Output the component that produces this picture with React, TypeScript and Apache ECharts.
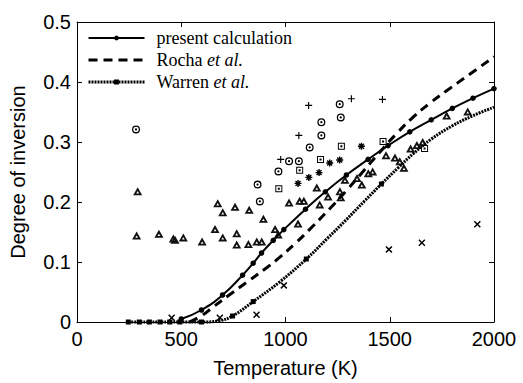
import React, { useEffect, useRef } from "react";
import * as echarts from "echarts";

// ---- data (Temperature K, degree of inversion) ----
const presentCalc: [number, number][] = [
  [500, 0.005], [597, 0.02], [698, 0.045], [794, 0.078], [845, 0.098], [885, 0.115],
  [941, 0.136], [992, 0.154], [1096, 0.188], [1191, 0.217], [1292, 0.245], [1396, 0.271],
  [1492, 0.294], [1596, 0.317], [1699, 0.337], [1800, 0.356], [1899, 0.373], [2000, 0.389],
];

const rochaCurve: [number, number][] = [
  [540, 0], [600, 0.011], [653, 0.025], [730, 0.045], [813, 0.066], [900, 0.088],
  [973, 0.108], [1050, 0.132], [1132, 0.16], [1210, 0.188], [1292, 0.219], [1370, 0.25],
  [1452, 0.283], [1530, 0.313], [1611, 0.341], [1690, 0.364], [1771, 0.385], [1880, 0.412],
  [2000, 0.442],
];

const warrenMarked: [number, number][] = [
  [246, 0], [299, 0], [347, 0], [398, 0], [445, 0], [493, 0], [597, 0], [746, 0.01],
  [845, 0.034], [1100, 0.105], [1460, 0.23],
];
const warrenCurve: [number, number][] = [
  [680, 0.002], [973, 0.067], [1200, 0.139], [1290, 0.17], [1380, 0.202], [1540, 0.257],
  [1611, 0.28], [1700, 0.305], [1800, 0.327], [1900, 0.344], [2000, 0.358],
];

const dotCircles: [number, number][] = [
  [283, 0.321], [866, 0.229], [877, 0.201], [966, 0.251], [1017, 0.268], [1064, 0.268],
  [1116, 0.291], [1172, 0.311], [1172, 0.333], [1265, 0.341], [1260, 0.363],
];
const plusMarks: [number, number][] = [
  [977, 0.271], [1064, 0.311], [1111, 0.361], [1316, 0.372], [1465, 0.371],
];
const dotSquares: [number, number][] = [
  [968, 0.222], [1068, 0.253], [1168, 0.271], [1268, 0.293], [1468, 0.301], [1667, 0.289],
];
const asterisks: [number, number][] = [
  [1060, 0.231], [1112, 0.241], [1161, 0.249], [1212, 0.265], [1260, 0.27], [1364, 0.293],
];
const crosses: [number, number][] = [
  [454, 0.007], [685, 0.007], [861, 0.012], [992, 0.061], [1496, 0.121], [1654, 0.132], [1920, 0.163],
];
const triangles: [number, number][] = [
  [291, 0.218], [286, 0.144], [393, 0.147], [462, 0.139], [470, 0.137], [510, 0.141], [600, 0.134],
  [662, 0.155], [699, 0.141], [675, 0.198], [699, 0.183], [758, 0.192], [826, 0.187],
  [894, 0.172], [766, 0.148], [766, 0.129], [822, 0.13], [862, 0.134], [886, 0.134],
  [950, 0.155], [965, 0.146], [1017, 0.199], [1068, 0.202], [1088, 0.202], [1060, 0.164],
  [1150, 0.224], [1164, 0.196], [1204, 0.209], [1261, 0.218], [1265, 0.208], [1285, 0.237],
  [1343, 0.24], [1366, 0.229], [1397, 0.248], [1418, 0.251], [1482, 0.278], [1525, 0.274],
  [1548, 0.268], [1568, 0.257], [1600, 0.289], [1630, 0.295], [1658, 0.3], [1773, 0.344],
  [1874, 0.351],
];

const xTicks = { min: 0, max: 2000, interval: 500 };
const yTicks = { min: 0, max: 0.5, interval: 0.1 };

const legendNames = ["present calculation", "Rocha et al.", "Warren et al."];

// ---- symbols ----
const SYM_DOT_CIRCLE =
  "path://M0,-5A5,5 0 1,1 0,5A5,5 0 1,1 0,-5ZM0,-3.4A3.4,3.4 0 1,0 0,3.4A3.4,3.4 0 1,0 0,-3.4ZM0,-1.4A1.4,1.4 0 1,1 0,1.4A1.4,1.4 0 1,1 0,-1.4Z";
const SYM_DOT_SQUARE =
  "path://M-5,-5H5V5H-5ZM-3.6,-3.6V3.6H3.6V-3.6ZM-1.4,-1.4H1.4V1.4H-1.4Z";
const SYM_TRIANGLE = "path://M0,-5L5.5,4L-5.5,4ZM0,-0.6L-1.7,2L1.7,2Z";
const SYM_PLUS = "path://M-0.65,-4H0.65V-0.65H4V0.65H0.65V4H-0.65V0.65H-4V-0.65H-0.65Z";
const SYM_CROSS =
  "path://M2.333,-3.323L3.323,-2.333L0.99,0L3.323,2.333L2.333,3.323L0,0.99L-2.333,3.323L-3.323,2.333L-0.99,0L-3.323,-2.333L-2.333,-3.323L0,-0.99Z";
const SYM_ASTERISK =
  "path://M-0.8,-4H0.8V-0.8H4V0.8H0.8V4H-0.8V0.8H-4V-0.8H-0.8Z" +
  "M2.263,-3.394L3.394,-2.263L1.131,0L3.394,2.263L2.263,3.394L0,1.131L-2.263,3.394L-3.394,2.263L-1.131,0L-3.394,-2.263L-2.263,-3.394L0,-1.131Z";

const SANS = "'Liberation Sans', Arial, Helvetica, sans-serif";
const SERIF = "'Liberation Serif', 'Times New Roman', serif";

function buildWarrenData() {
  const all = [
    ...warrenMarked.map((p) => ({ value: p, marked: true })),
    ...warrenCurve.map((p) => ({ value: p, marked: false })),
  ].sort((a, b) => a.value[0] - b.value[0]);
  return all.map((d) => (d.marked ? { value: d.value } : { value: d.value, symbol: "none" }));
}

export default function App() {
  const ref = useRef<HTMLDivElement>(null);
  useEffect(() => {
    if (!ref.current) return;
    const chart = echarts.init(ref.current, undefined, { renderer: "svg" });
    const axisLine = { show: true, onZero: false, lineStyle: { color: "#000", width: 1 } };
    const axisTick = { show: true, inside: true, length: 5, lineStyle: { color: "#000", width: 1 } };
    const labelStyle = { fontFamily: SANS, fontSize: 20, color: "#000" };
    const scatter = (name: string, data: [number, number][], symbol: string, size: any, color = "#000") => ({
      type: "scatter",
      name,
      data,
      symbol,
      symbolSize: size,
      itemStyle: { color, opacity: 1 },
      z: 3,
    });
    chart.setOption({
      animation: false,
      backgroundColor: "#fff",
      grid: { left: 76, right: 29, top: 22, bottom: 57 },
      legend: {
        orient: "vertical",
        left: 87,
        top: 29,
        padding: 0,
        itemWidth: 56,
        itemHeight: 6,
        itemGap: 4,
        selectedMode: false,
        data: [
          { name: legendNames[0], lineStyle: { width: 2 } },
          { name: legendNames[1], lineStyle: { width: 3 }, itemStyle: { opacity: 0 } },
          { name: legendNames[2], lineStyle: { width: 3 } },
        ],
        formatter: (name: string) =>
          name.endsWith(" et al.")
            ? `{n|${name.replace(" et al.", "")} }{i|et al.}`
            : `{n|${name}}`,
        textStyle: {
          fontFamily: SERIF,
          fontSize: 18,
          color: "#000",
          rich: {
            n: { fontFamily: SERIF, fontSize: 18, color: "#000", padding: [0, 0, 0, 7] },
            i: { fontFamily: SERIF, fontSize: 18, color: "#000", fontStyle: "italic" },
          },
        },
      },
      xAxis: [
        {
          type: "value",
          ...xTicks,
          position: "bottom",
          name: "Temperature (K)",
          nameLocation: "middle",
          nameGap: 36,
          nameTextStyle: { fontFamily: SANS, fontSize: 20, color: "#000" },
          axisLine,
          axisTick,
          axisLabel: { ...labelStyle, margin: 7, lineHeight: 20, formatter: (v: number) => String(v) },
          splitLine: { show: false },
        },
        {
          type: "value",
          ...xTicks,
          position: "top",
          axisLine,
          axisTick,
          axisLabel: { show: false },
          splitLine: { show: false },
        },
      ],
      yAxis: [
        {
          type: "value",
          ...yTicks,
          position: "left",
          name: "Degree of inversion",
          nameLocation: "middle",
          nameGap: 49,
          nameTextStyle: { fontFamily: SANS, fontSize: 20, color: "#000" },
          axisLine,
          axisTick,
          axisLabel: { ...labelStyle, margin: 6, formatter: (v: number) => String(Math.round(v * 10) / 10) },
          splitLine: { show: false },
        },
        {
          type: "value",
          ...yTicks,
          position: "right",
          axisLine,
          axisTick,
          axisLabel: { show: false },
          splitLine: { show: false },
        },
      ],
      series: [
        scatter("tri", triangles, SYM_TRIANGLE, [9, 8], "#111"),
        scatter("circ", dotCircles, SYM_DOT_CIRCLE, 8),
        scatter("plus", plusMarks, SYM_PLUS, 7),
        scatter("sq", dotSquares, SYM_DOT_SQUARE, 7),
        scatter("ast", asterisks, SYM_ASTERISK, 7),
        scatter("cross", crosses, SYM_CROSS, 7),
        {
          type: "line",
          name: legendNames[1],
          data: rochaCurve,
          symbol: "none",
          smooth: 0.5,
          clip: false,
          lineStyle: { color: "#000", width: 3, type: [9, 6] },
          itemStyle: { color: "#000" },
          z: 4,
        },
        {
          type: "line",
          name: legendNames[2],
          data: buildWarrenData(),
          symbol: "rect",
          symbolSize: 5,
          showAllSymbol: true,
          smooth: 0.4,
          clip: false,
          lineStyle: { color: "#000", width: 3, type: [2, 1], cap: "butt" },
          itemStyle: { color: "#000" },
          z: 4,
        },
        {
          type: "line",
          name: legendNames[0],
          data: presentCalc,
          symbol: "circle",
          symbolSize: 5.5,
          showAllSymbol: true,
          smooth: 0.5,
          clip: false,
          lineStyle: { color: "#000", width: 2 },
          itemStyle: { color: "#000" },
          z: 5,
        },
      ],
    });
    return () => chart.dispose();
  }, []);
  return (
    <div
      ref={ref}
      style={{ position: "fixed", left: 0, top: 0, width: 523, height: 383, background: "#fff" }}
    />
  );
}
